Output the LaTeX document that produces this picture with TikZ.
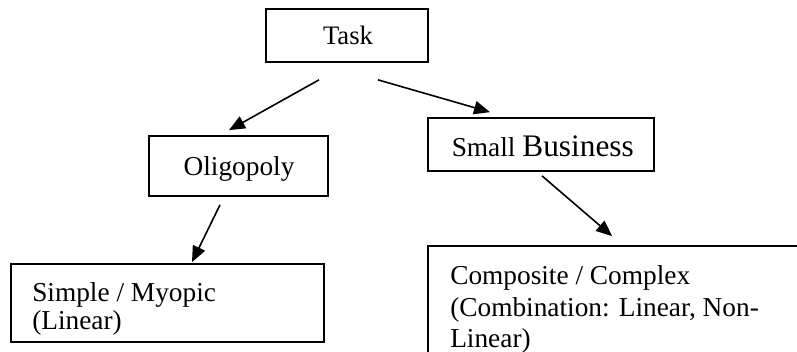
\documentclass[tikz,border=0pt]{standalone}
\usepackage{fontspec}
\setmainfont{Liberation Serif}
\usetikzlibrary{arrows.meta,calc}
\begin{document}
\begin{tikzpicture}[x=0.75pt,y=-0.75pt,
  box/.style={draw,line width=1.3pt,rectangle,inner sep=0pt},
  lbl/.style={inner sep=0pt,font=\fontsize{20.5}{21}\selectfont},
  conn/.style={line width=1.2pt,-{Triangle[length=12pt,width=10pt]}}]
\useasboundingbox (0,0) rectangle (797,352);
\clip (0,0) rectangle (797,352);

% boxes
\node[box,minimum width=121.5pt,minimum height=39.75pt] (task)   at (347,35.5) {};
\node[box,minimum width=134.25pt,minimum height=45pt]   (oligo)  at (238.5,166) {};
\node[box,minimum width=169.5pt,minimum height=39.75pt] (small)  at (541,144.5) {};
\node[box,minimum width=234.75pt,minimum height=58.5pt] (simple) at (167.5,303) {};
\node[box,minimum width=288pt,minimum height=94.5pt]    (comp)   at (620,309) {};

% labels
\node[lbl,font=\fontsize{20}{21}\selectfont,anchor=base] (tasktxt) at (348,45) {Task};
\node[lbl,anchor=base] (oligotxt) at (239,176) {Oligopoly};
\node[lbl,anchor=base west] (smalltxt) at (451.5,156.7)
  {Small {\fontsize{23.5}{25}\selectfont Business}};
\node[lbl,anchor=north west,align=left,font=\fontsize{20.5}{21}\selectfont] (simpletxt) at (32,282.5)
  {Simple / Myopic\\(Linear)};
\node[lbl,anchor=north west,align=left,font=\fontsize{20.5}{23.6}\selectfont] (comptxt) at (450,265.5)
  {Composite / Complex\\(Combination: Linear, Non-\\Linear)};

% connectors
\draw[conn] ($(task.south)+(-28,17)$) -- ($(oligo.north)+(-9.5,-5)$);
\draw[conn] ($(task.south)+(31,17)$) -- ($(small.north)+(-51,-5)$);
\draw[conn] ($(oligo.south)+(-18.5,8)$) -- ($(simple.north)+(24.5,-1)$);
\draw[conn] ($(small.south)+(1,4)$) -- ($(comp.north west)+(185,-9)$);
\end{tikzpicture}
\end{document}
